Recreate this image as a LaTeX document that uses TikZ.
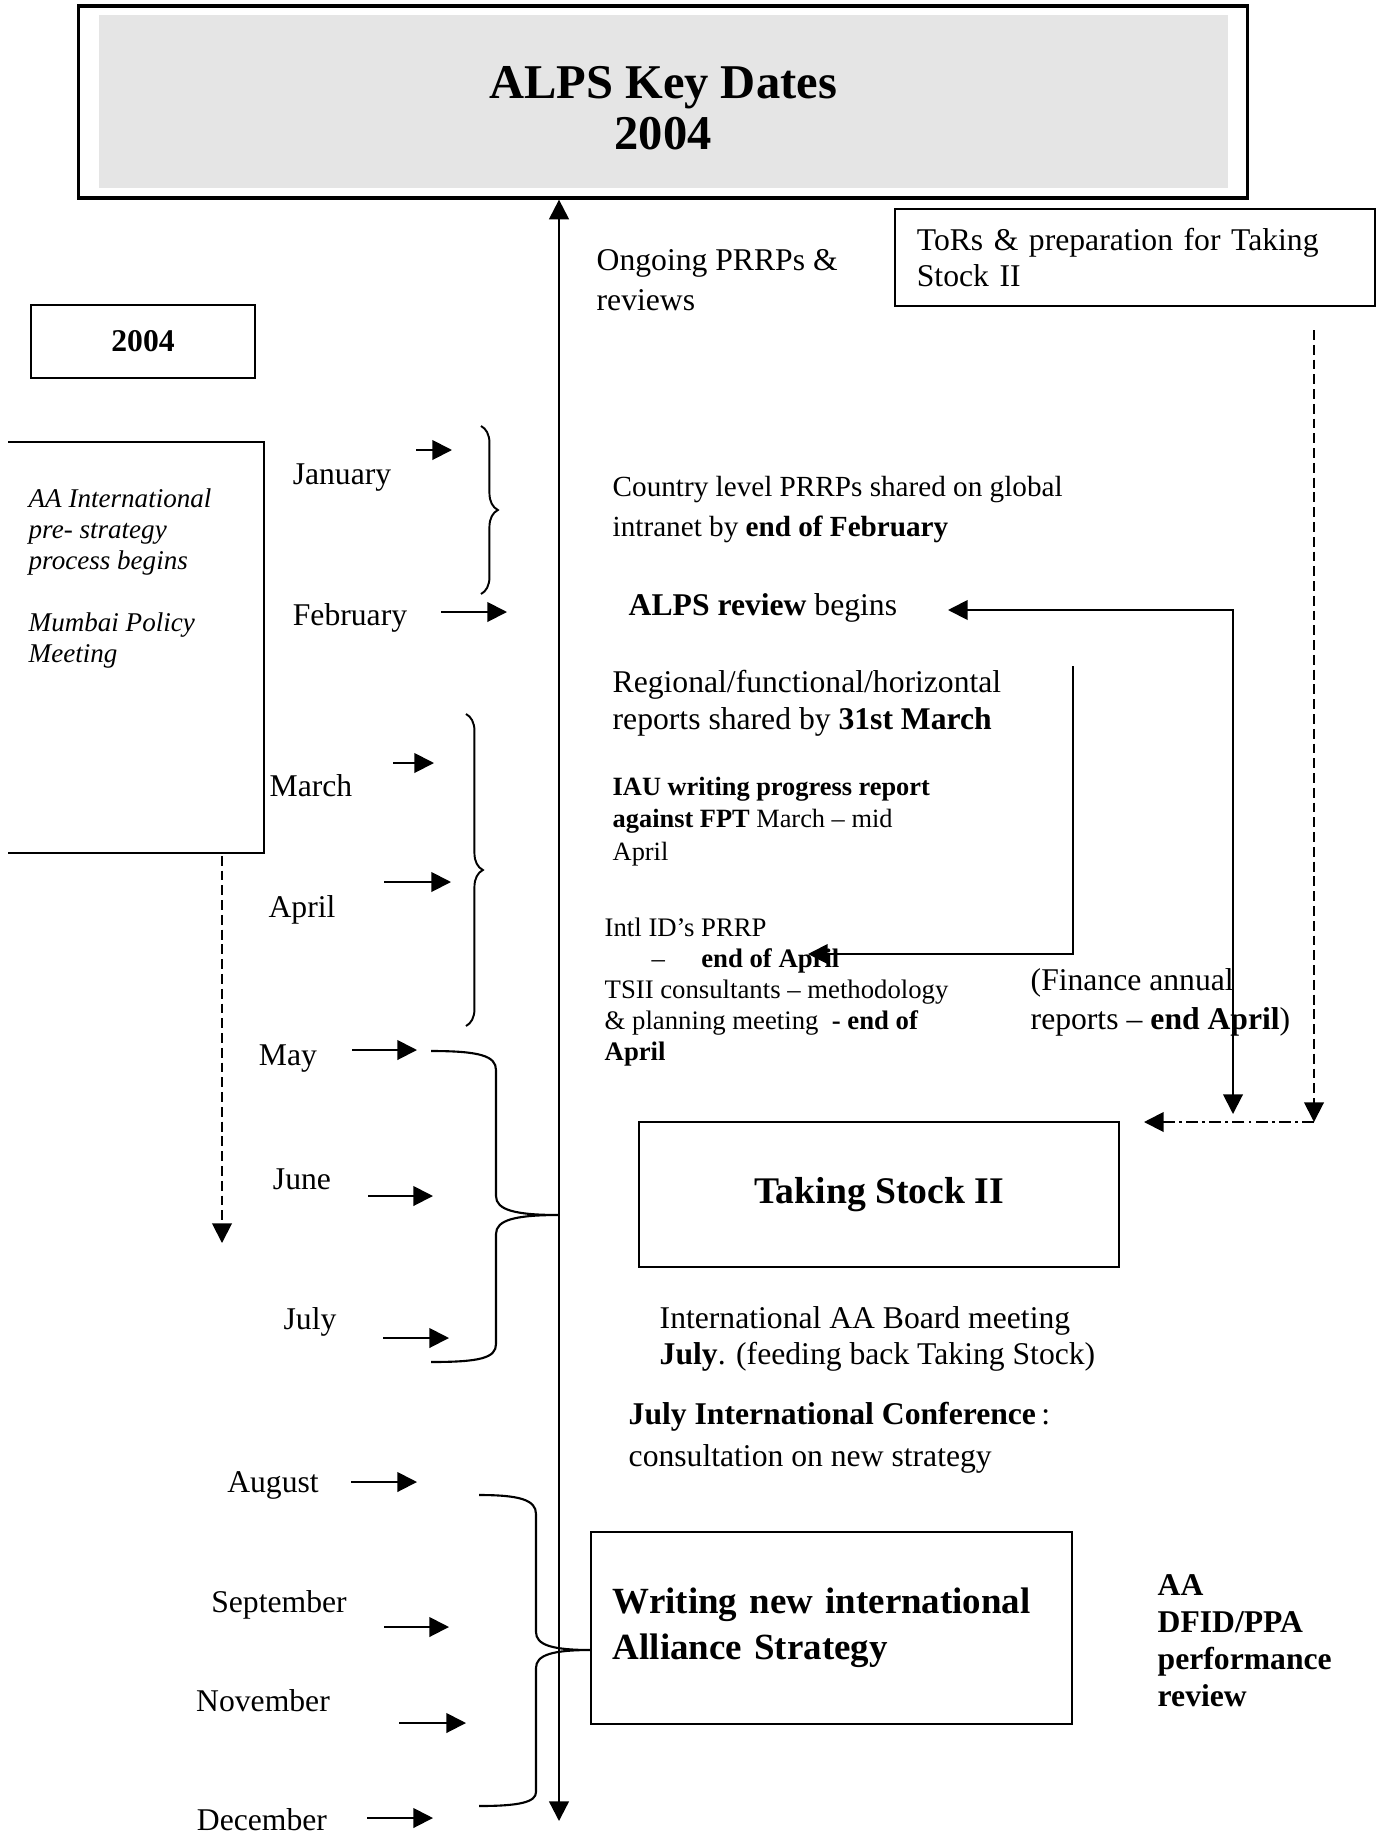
\documentclass[tikz,border=0pt]{standalone}
\usepackage{fontspec}
\setmainfont{Liberation Serif}
\usetikzlibrary{arrows.meta,decorations.pathreplacing}

\begin{document}
\begin{tikzpicture}[x=0.01cm,y=-0.01cm]
\tikzset{
  titlebox/.style={rectangle,draw=black,line width=0.9pt,minimum width=11.68cm,minimum height=1.92cm,inner sep=0pt},
  titlefill/.style={rectangle,fill=black!10,minimum width=11.29cm,minimum height=1.73cm,inner sep=0pt},
  datebox/.style={rectangle,draw=black,line width=0.55pt,inner sep=0pt},
  monthlabel/.style={inner sep=0pt,font=\fontsize{9}{10.5}\selectfont},
  notetext/.style={inner sep=0pt,anchor=base west,align=left},
  plainedge/.style={draw=black,line width=0.55pt,line join=miter},
  monthedge/.style={plainedge,-{Triangle[length=5.6pt,width=5.6pt]}},
  axisedge/.style={plainedge,line width=0.65pt,{Triangle[length=5.6pt,width=5.6pt]}-{Triangle[length=5.6pt,width=5.6pt]}},
  flowedge/.style={plainedge,-{Triangle[length=5.6pt,width=5.6pt]}},
  twowayedge/.style={plainedge,{Triangle[length=5.6pt,width=5.6pt]}-{Triangle[length=5.6pt,width=5.6pt]}},
  dashededge/.style={plainedge,dash pattern=on 2.8pt off 1.4pt,-{Triangle[length=5.6pt,width=5.6pt]}},
  dashdotedge/.style={plainedge,dash pattern=on 3.4pt off 1.2pt on 0.8pt off 1.2pt,-{Triangle[length=5.6pt,width=5.6pt]}},
  smallbrace/.style={plainedge,decorate,decoration={brace,amplitude=4.8pt}},
  bigbrace/.style={plainedge,line width=0.6pt}
}
\useasboundingbox (0,0) rectangle (1377,1836);
\node[titlebox] (n_title) at (663,102) {};
\node[titlefill] (n_titlefill) at (663.5,101.5) {};
\node[inner sep=0pt,align=center,font=\fontsize{13.8}{14.5}\selectfont\bfseries] (n_titletext) at (663,108) {ALPS Key Dates\\2004};
\coordinate (c_axis_bot) at (559,1821);
\draw[axisedge] (c_axis_bot) -- (c_axis_bot |- n_title.south);
\node[notetext,font=\fontsize{9}{11.3}\selectfont] (n_ongoing) at (596,310) {Ongoing PRRPs \&\\reviews};
\node[datebox,minimum height=0.97cm,text width=4.36cm,align=left,inner xsep=0.22cm,font=\fontsize{9}{10.2}\selectfont] (n_tors) at (1135,257.5) {ToRs \& preparation for Taking\\Stock II};
\node[datebox,minimum width=2.24cm,minimum height=0.73cm,font=\fontsize{9}{10}\selectfont\bfseries] (n_year) at (143,341.5) {2004};
\node[minimum width=2.54cm,minimum height=4.09cm,inner sep=0pt] (n_aabox) at (136,647.5) {};
\draw[plainedge] (n_aabox.north west) -- (n_aabox.north east) -- (n_aabox.south east) -- (n_aabox.south west);
\node[notetext,font=\fontsize{7.7}{8.8}\selectfont\itshape] (n_aatext) at (28,662) {AA International\\pre- strategy\\process begins\\[8.8pt]Mumbai Policy\\Meeting};
\coordinate (c_aa_end) at (222,1243);
\draw[dashededge] ([yshift=-0.03cm]n_aabox.south -| c_aa_end) -- (c_aa_end);
\node[monthlabel] (n_jan) at (342,478) {January};
\node[monthlabel] (n_feb) at (350,618) {February};
\node[monthlabel] (n_mar) at (311,786) {March};
\node[monthlabel] (n_apr) at (302,910) {April};
\node[monthlabel] (n_may) at (288,1059) {May};
\node[monthlabel] (n_jun) at (302,1179) {June};
\node[monthlabel] (n_jul) at (310,1322) {July};
\node[monthlabel] (n_aug) at (273,1485) {August};
\node[monthlabel] (n_sep) at (279,1605) {September};
\node[monthlabel] (n_nov) at (263,1701) {November};
\node[monthlabel] (n_dec) at (262,1820) {December};
\coordinate (c_jan_a) at (416,450);
\coordinate (c_jan_b) at (452,450);
\coordinate (c_feb_a) at (441,612);
\coordinate (c_feb_b) at (507,612);
\coordinate (c_mar_a) at (393,763);
\coordinate (c_mar_b) at (434,763);
\coordinate (c_apr_a) at (384,882);
\coordinate (c_apr_b) at (451,882);
\coordinate (c_may_a) at (352,1050);
\coordinate (c_may_b) at (417,1050);
\coordinate (c_jun_a) at (368,1196);
\coordinate (c_jun_b) at (433,1196);
\coordinate (c_jul_a) at (383,1338);
\coordinate (c_jul_b) at (449,1338);
\coordinate (c_aug_a) at (351,1482);
\coordinate (c_aug_b) at (417,1482);
\coordinate (c_sep_a) at (384,1627);
\coordinate (c_sep_b) at (449,1627);
\coordinate (c_nov_a) at (399,1723);
\coordinate (c_nov_b) at (466,1723);
\coordinate (c_dec_a) at (367,1818);
\coordinate (c_dec_b) at (433,1818);
\draw[monthedge] (c_jan_a) -- (c_jan_b);
\draw[monthedge] (c_feb_a) -- (c_feb_b);
\draw[monthedge] (c_mar_a) -- (c_mar_b);
\draw[monthedge] (c_apr_a) -- (c_apr_b);
\draw[monthedge] (c_may_a) -- (c_may_b);
\draw[monthedge] (c_jun_a) -- (c_jun_b);
\draw[monthedge] (c_jul_a) -- (c_jul_b);
\draw[monthedge] (c_aug_a) -- (c_aug_b);
\draw[monthedge] (c_sep_a) -- (c_sep_b);
\draw[monthedge] (c_nov_a) -- (c_nov_b);
\draw[monthedge] (c_dec_a) -- (c_dec_b);
\coordinate (c_br1_top) at (481,426);
\coordinate (c_br1_bot) at (481,594);
\coordinate (c_br2_top) at (466,714);
\coordinate (c_br2_bot) at (466,1026);
\draw[smallbrace] (c_br1_top) -- (c_br1_bot);
\draw[smallbrace] (c_br2_top) -- (c_br2_bot);
\coordinate (c_br3_top) at (431,1051);
\coordinate (c_br3_tip) at (559,1215);
\coordinate (c_br3_bot) at (431,1362);
\draw[bigbrace] (c_br3_top) .. controls (480,1051) and (496,1056) .. (496,1070) -- (496,1196) .. controls (496,1210) and (515,1215) .. (c_br3_tip) .. controls (515,1215) and (496,1220) .. (496,1234) -- (496,1344) .. controls (496,1358) and (480,1362) .. (c_br3_bot);
\coordinate (c_br4_top) at (479,1495);
\coordinate (c_br4_tip) at (591,1650);
\coordinate (c_br4_bot) at (479,1806);
\draw[bigbrace] (c_br4_top) .. controls (520,1495) and (536,1500) .. (536,1514) -- (536,1632) .. controls (536,1645) and (552,1650) .. (c_br4_tip) .. controls (552,1650) and (536,1655) .. (536,1668) -- (536,1792) .. controls (536,1802) and (520,1806) .. (c_br4_bot);
\node[notetext,font=\fontsize{8.3}{11.3}\selectfont] (n_country) at (612,536) {Country level PRRPs shared on global\\intranet by \textbf{end of February}};
\node[notetext,font=\fontsize{9}{10.5}\selectfont] (n_review) at (628,615) {\textbf{ALPS review} begins};
\node[notetext,font=\fontsize{9}{10.5}\selectfont] (n_regional) at (612,729) {Regional/functional/horizontal\\reports shared by \textbf{31st March}};
\node[notetext,font=\fontsize{7.5}{9.2}\selectfont] (n_iau) at (612,860) {\textbf{IAU writing progress report}\\\textbf{against FPT} March – mid\\April};
\node[notetext,font=\fontsize{7.6}{8.8}\selectfont] (n_intl) at (604,1060) {Intl ID’s PRRP\\\hspace*{0.47cm}–\hspace{0.36cm}\textbf{end of April}\\TSII consultants – methodology\\\& planning meeting\ \ \textbf{- end of}\\\textbf{April}};
\node[notetext,font=\fontsize{9}{11}\selectfont] (n_finance) at (1030,1029) {(Finance annual\\reports – \textbf{end April})};
\node[datebox,minimum width=4.80cm,minimum height=1.45cm,font=\fontsize{10.7}{12}\selectfont\bfseries] (n_ts) at (879,1194.5) {Taking Stock II};
\node[notetext,font=\fontsize{9}{10.2}\selectfont] (n_board) at (659,1364) {International AA Board meeting\\\textbf{July}. (feeding back Taking Stock)};
\node[notetext,font=\fontsize{9}{11.9}\selectfont] (n_conf) at (628,1466) {\textbf{July International Conference}\,:\\consultation on new strategy};
\node[datebox,minimum height=1.92cm,text width=4.37cm,inner xsep=0.22cm,align=left,font=\fontsize{10.5}{13}\selectfont\bfseries] (n_write) at (831.5,1628) {Writing new international\\Alliance Strategy};
\node[notetext,font=\fontsize{9}{10.5}\selectfont\bfseries] (n_dfid) at (1157,1706) {AA\\DFID/PPA\\performance\\review};
\coordinate (c_review_in) at (948,610);
\coordinate (c_review_out) at (1233,1114);
\draw[twowayedge] (c_review_in) -| (c_review_out);
\coordinate (c_regional_top) at (1073,666);
\coordinate (c_intl_in) at (808,954);
\draw[flowedge] (c_regional_top) |- (c_intl_in);
\coordinate (c_tors_out) at (1314,330);
\coordinate (c_tors_turn) at (1314,1122);
\coordinate (c_ts_in) at (1144,1122);
\draw[dashededge] (c_tors_out) -- (c_tors_turn);
\draw[dashdotedge] (c_tors_turn) -- (c_ts_in);
\end{tikzpicture}
\end{document}
